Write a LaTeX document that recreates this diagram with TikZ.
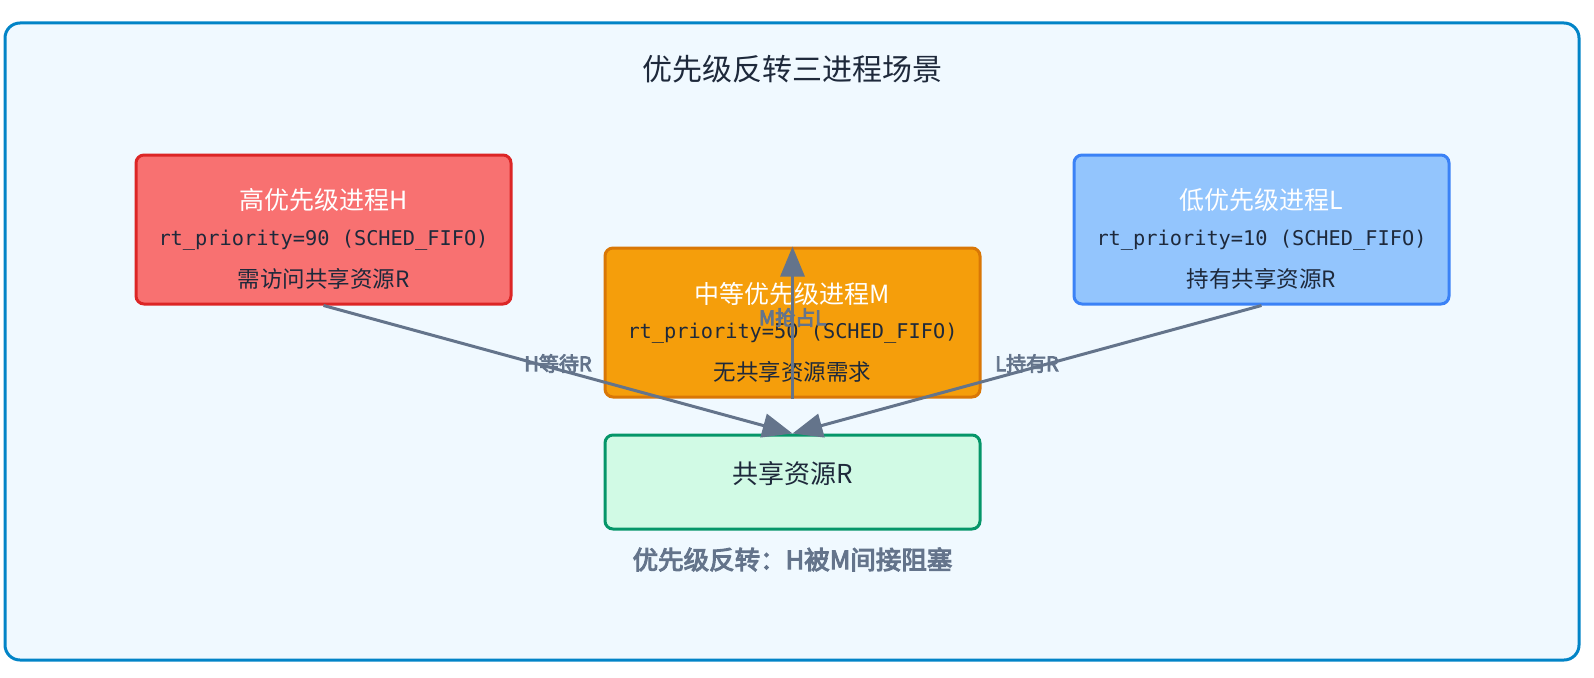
\documentclass[tikz,border=0pt]{standalone}
\usepackage{fontspec}
\setmainfont{Noto Sans CJK SC}
\newfontfamily\monofont{DejaVu Sans Mono}
\newfontfamily\boldcjk[FakeBold=4]{Noto Sans CJK SC}
\usetikzlibrary{arrows.meta,calc}

\definecolor{panelfill}{HTML}{F0F9FF}
\definecolor{panelline}{HTML}{0284C7}
\definecolor{hfill}{HTML}{F87171}
\definecolor{hline}{HTML}{DC2626}
\definecolor{mfill}{HTML}{F59E0B}
\definecolor{mline}{HTML}{D97706}
\definecolor{lfill}{HTML}{93C5FD}
\definecolor{lline}{HTML}{3B82F6}
\definecolor{rfill}{HTML}{D1FAE5}
\definecolor{rline}{HTML}{059669}
\definecolor{ink}{HTML}{1E293B}
\definecolor{slate}{HTML}{64748B}

\tikzset{
  procbox/.style={draw, line width=3pt, rounded corners=8pt,
    minimum width=375pt, minimum height=149pt, inner sep=0pt},
  headtext/.style={text=white, font=\fontsize{25}{28}\selectfont},
  codetext/.style={text=ink, font=\monofont\fontsize{20.3}{23}\selectfont},
  notetext/.style={text=ink, font=\fontsize{22.5}{25}\selectfont},
  link/.style={draw=slate, line width=3pt,
    -{Triangle[length=30pt,width=24pt]}},
  linklabel/.style={text=slate, font=\boldcjk\fontsize{20}{22}\selectfont, inner sep=0pt},
}

\begin{document}
\begin{tikzpicture}[x=1pt,y=-1pt]
\useasboundingbox (0,0) rectangle (1594,677);

% outer panel
\draw[fill=panelfill, draw=panelline, line width=3pt, rounded corners=15pt]
  (5,23) rectangle (1579,660);
\node[text=ink, font=\fontsize{30}{33}\selectfont] (title) at (792,69) {优先级反转三进程场景};

% process boxes
\node[procbox, fill=hfill, draw=hline] (H) at (323.5,229.5) {};
\node[procbox, fill=mfill, draw=mline] (M) at (792.5,322.5) {};
\node[procbox, fill=lfill, draw=lline] (L) at (1261.5,229.5) {};
\node[procbox, fill=rfill, draw=rline, minimum height=94pt] (R) at (792.5,482) {};

% box texts
\node[headtext] (Ht) at ($(H.north)+(0,47)$) {高优先级进程H};
\node[codetext] (Hc) at ($(H.north)+(0,87)$) {rt\_priority=90 (SCHED\_FIFO)};
\node[notetext] (Hn) at ($(H.north)+(0,125)$) {需访问共享资源R};

\node[headtext] (Mt) at ($(M.north)+(0,47)$) {中等优先级进程M};
\node[codetext] (Mc) at ($(M.north)+(0,87)$) {rt\_priority=50 (SCHED\_FIFO)};
\node[notetext] (Mn) at ($(M.north)+(0,125)$) {无共享资源需求};

\node[headtext] (Lt) at ($(L.north)+(0,47)$) {低优先级进程L};
\node[codetext] (Lc) at ($(L.north)+(0,87)$) {rt\_priority=10 (SCHED\_FIFO)};
\node[notetext] (Ln) at ($(L.north)+(0,125)$) {持有共享资源R};

\node[text=ink, font=\fontsize{26}{29}\selectfont] (Rt) at ($(R.north)+(0,40)$) {共享资源R};

% connectors
\draw[link] (H.south) -- (R.north) node[linklabel, pos=0.5, yshift=6pt] (hw) {H等待R};
\draw[link] (L.south) -- (R.north) node[linklabel, pos=0.5, yshift=6pt] (lh) {L持有R};
\draw[link] (M.south) -- (M.north) node[linklabel, pos=0.5, yshift=5pt] (mp) {M抢占L};

% caption
\node[text=slate, font=\boldcjk\fontsize{25.5}{28}\selectfont] (cap) at ($(R.south)+(0,29)$) {优先级反转：H被M间接阻塞};
\end{tikzpicture}
\end{document}
